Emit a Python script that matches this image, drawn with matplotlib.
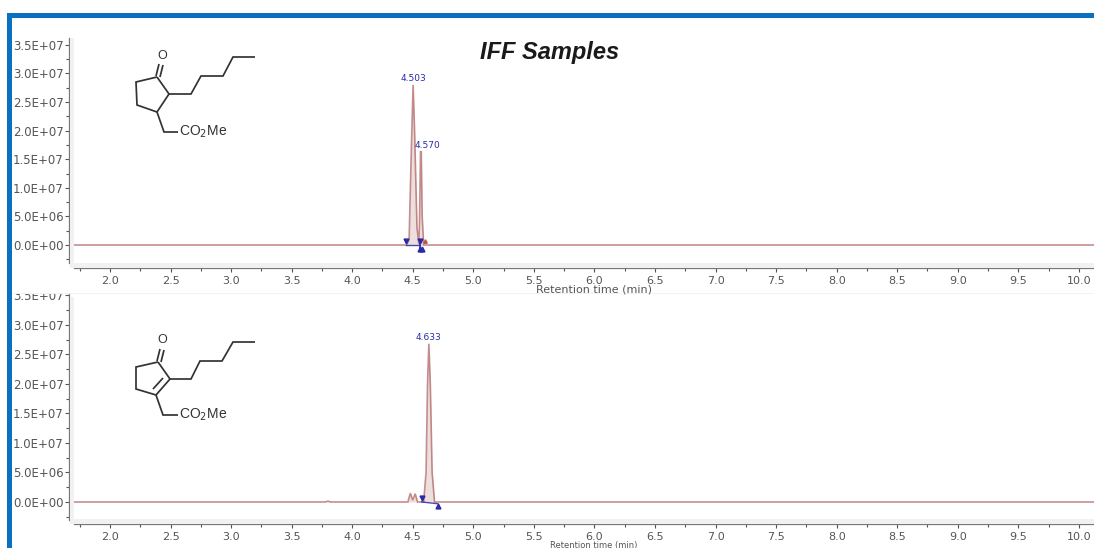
import matplotlib
matplotlib.use("Agg")
import matplotlib.pyplot as plt
from matplotlib.patches import Rectangle
from matplotlib.ticker import FuncFormatter, MultipleLocator

W, H = 1094, 548

# traces: retention time (min), intensity
TOP_TIME = [1.703, 4.45, 4.47, 4.49, 4.503, 4.515, 4.535, 4.55, 4.556, 4.564, 4.57, 4.578, 4.59, 10.125]
TOP_SIGNAL = [0, 0, 1.0e6, 18e6, 28e6, 20e6, 3e6, 0.2e6, 4e6, 16.3e6, 16.3e6, 5e6, 0, 0]
BOTTOM_TIME = [1.703, 3.78, 3.80, 3.82, 4.46, 4.48, 4.50, 4.52, 4.54, 4.59, 4.61, 4.622, 4.633, 4.645, 4.66, 4.68, 10.125]
BOTTOM_SIGNAL = [0, 0, 0.15e6, 0, 0, 1.5e6, 0.3e6, 1.4e6, 0, 0, 5e6, 20e6, 26.8e6, 20e6, 5e6, 0, 0]

TOP_PEAKS = [4.503, 4.570]
TOP_PEAK_HEIGHTS = [28e6, 16.3e6]
BOTTOM_PEAKS = [4.633]
BOTTOM_PEAK_HEIGHTS = [26.8e6]

# integration baselines and their end markers
TOP_BASE_TIME = [4.444, 4.56]
TOP_BASE_SIGNAL = [0, 0]
TOP_STOP_TIME = [4.56, 4.56]
TOP_STOP_SIGNAL = [0.9e6, -0.9e6]
TOP_START = ([4.444, 4.56], [0.7e6, 0.7e6])
TOP_END = ([4.56, 4.575], [-0.7e6, -0.7e6])
TOP_OTHER = ([4.60], [0.7e6])
BOTTOM_BASE_TIME = [4.574, 4.708]
BOTTOM_BASE_SIGNAL = [0.0, -0.3e6]
BOTTOM_START = ([4.574], [0.7e6])
BOTTOM_END = ([4.708], [-0.7e6])

X_LABEL = "Retention time (min)"
TITLE = "IFF Samples"

TRACE = "#ad5f5f"
BLUE = "#2a2aa8"
GREY = "#555555"
INK = "#333333"


def px_box(left, top, right, bottom):
    return [left / W, 1 - bottom / H, (right - left) / W, (bottom - top) / H]


def sci(v, _):
    mant, exp = f"{v:.1E}".split("E")
    return f"{mant}E{exp[0]}{exp[1:].zfill(2)}"


def draw_panel(ax, t, s, peaks, heights, label_dx, base_t, base_s, start, end, ylim, spine_low, label_y):
    ax.fill_between(t, 0, s, color=TRACE, alpha=0.2, lw=0)
    ax.plot(t, s, color=TRACE, lw=1.2, alpha=0.7, solid_joinstyle="miter")
    ax.plot(base_t, base_s, color=BLUE, lw=1.0, alpha=0.85)
    ax.plot(start[0], start[1], ls="none", marker="v", ms=3.5, color=BLUE)
    ax.plot(end[0], end[1], ls="none", marker="^", ms=3.5, color=BLUE)
    for p, h, dx in zip(peaks, heights, label_dx):
        ax.annotate(f"{p:.3f}", (p, h), xytext=(dx, 1.5), textcoords="offset points",
                    ha="center", va="bottom", fontsize=6.5, color=BLUE)

    ax.set_xlim(1.703, 10.125)
    ax.set_ylim(*ylim)
    ax.xaxis.set_major_locator(MultipleLocator(0.5))
    ax.xaxis.set_minor_locator(MultipleLocator(0.25))
    ax.yaxis.set_major_locator(MultipleLocator(5e6))
    ax.yaxis.set_minor_locator(MultipleLocator(2.5e6))
    ax.yaxis.set_major_formatter(FuncFormatter(sci))
    ax.xaxis.set_major_formatter(FuncFormatter(lambda v, _: f"{v:.1f}"))
    ax.tick_params(axis="both", which="major", length=3, width=0.8, color=GREY,
                   labelcolor=GREY, labelsize=8)
    ax.tick_params(axis="both", which="minor", length=2, width=0.8, color=GREY)
    ax.tick_params(axis="x", pad=2.5)
    ax.tick_params(axis="y", pad=1, labelsize=8.5)

    for side in ("top", "right"):
        ax.spines[side].set_visible(False)
    ax.spines["left"].set_position(("outward", 3.6))
    ax.spines["left"].set_bounds(spine_low, ylim[1])
    for side in ("left", "bottom"):
        ax.spines[side].set_color("#777777")
        ax.spines[side].set_linewidth(0.9)

    ax.set_xlabel(X_LABEL, fontsize=8, color=GREY)
    ax.xaxis.set_label_coords((594 - 74) / 1020, label_y)


def bonds(ov, path):
    xs, ys = zip(*path)
    ov.plot(xs, ys, color=INK, lw=1.25, solid_joinstyle="miter", solid_capstyle="butt")


fig = plt.figure(figsize=(W / 100, H / 100), dpi=100)

ax_bottom = fig.add_axes(px_box(74, 293, W, 524), zorder=1)
ax_top = fig.add_axes(px_box(74, 38, W, 268), zorder=2)
overlay = fig.add_axes([0, 0, 1, 1], zorder=3)
overlay.set_xlim(0, W)
overlay.set_ylim(H, 0)
overlay.axis("off")
overlay.patch.set_alpha(0)

draw_panel(ax_top, TOP_TIME, TOP_SIGNAL, TOP_PEAKS, TOP_PEAK_HEIGHTS, [0, 4.5],
           TOP_BASE_TIME, TOP_BASE_SIGNAL, TOP_START, TOP_END,
           (-4.02e6, 36.2e6), -3.1e6, -0.072)
draw_panel(ax_bottom, BOTTOM_TIME, BOTTOM_SIGNAL, BOTTOM_PEAKS, BOTTOM_PEAK_HEIGHTS, [0],
           BOTTOM_BASE_TIME, BOTTOM_BASE_SIGNAL, BOTTOM_START, BOTTOM_END,
           (-3.73e6, 35.4e6), -3.05e6, -0.074)
ax_top.plot(TOP_STOP_TIME, TOP_STOP_SIGNAL, color=BLUE, lw=1.2)
ax_top.plot(TOP_OTHER[0], TOP_OTHER[1], ls="none", marker="^", ms=2.5, color="#c05050")
# the lower label sits on the picture's edge, so it has to stay small enough to fit
ax_bottom.xaxis.label.set_fontsize(6)
ax_top.patch.set_alpha(0)

# strip of the top panel that hides the head of the lower one
ax_top.add_patch(Rectangle((0, 269), W, 24, transform=overlay.transData, clip_on=False,
                           facecolor="white", edgecolor="none", zorder=0.5))
ax_top.add_patch(Rectangle((12, 293), W, 1, transform=overlay.transData, clip_on=False,
                           facecolor="#edf3fb", edgecolor="none", zorder=0.6))

# pale bands along the axes
for band in [(70, 38, 4, 230), (70, 263, W, 5), (70, 297, 4, 227), (70, 519, W, 5)]:
    overlay.add_patch(Rectangle(band[:2], band[2], band[3], facecolor="#f1f1f1",
                                edgecolor="none", zorder=0))

# slide frame
overlay.add_patch(Rectangle((7, 13), W, 5, facecolor="#0a70c0", edgecolor="none"))
overlay.add_patch(Rectangle((7, 13), 5, H, facecolor="#0a70c0", edgecolor="none"))
overlay.add_patch(Rectangle((0, 0), 7, H, facecolor="white", edgecolor="none", zorder=0.9))

overlay.text(550, 53, TITLE, fontsize=17, fontweight="bold", fontstyle="italic",
             family="Liberation Sans", color="#1a1a1a", ha="center", va="center")

# saturated ketone, top panel
bonds(overlay, [(157, 77), (136, 82), (137, 105), (157, 112), (169, 94), (157, 77)])
bonds(overlay, [(169, 94), (191, 94), (201, 76), (223, 76), (233, 57), (255, 57)])
bonds(overlay, [(157, 112), (164, 132), (178, 132)])
bonds(overlay, [(156, 76), (159, 64)])
bonds(overlay, [(160, 77), (163, 65)])
overlay.text(162, 56, "O", fontsize=9, family="Liberation Sans", color=INK, ha="center", va="center")
overlay.text(179, 132, "CO$_2$Me", fontsize=10, family="Liberation Sans", color=INK, ha="left", va="center",
             math_fontfamily="dejavusans")

# enone, bottom panel
bonds(overlay, [(158, 362), (136, 367), (136, 389), (156, 395), (170, 379), (158, 362)])
bonds(overlay, [(153, 389), (163, 378)])
bonds(overlay, [(170, 379), (191, 379), (200, 361), (222, 361), (233, 342), (255, 342)])
bonds(overlay, [(156, 395), (163, 415), (178, 415)])
bonds(overlay, [(157, 361), (160, 349)])
bonds(overlay, [(161, 362), (164, 350)])
overlay.text(162, 340, "O", fontsize=9, family="Liberation Sans", color=INK, ha="center", va="center")
overlay.text(179, 415, "CO$_2$Me", fontsize=10, family="Liberation Sans", color=INK, ha="left", va="center",
             math_fontfamily="dejavusans")

fig.savefig("out.png", dpi=100)
